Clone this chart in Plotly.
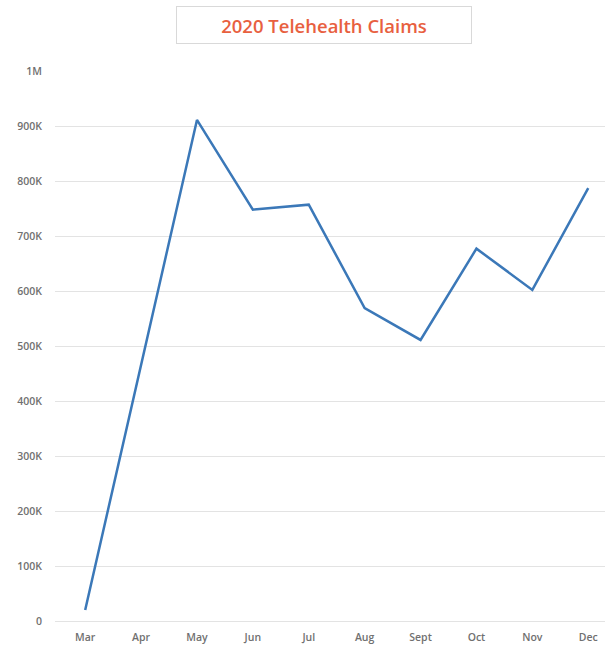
import plotly.graph_objects as go

months = ["Mar", "Apr", "May", "Jun", "Jul", "Aug", "Sept", "Oct", "Nov", "Dec"]
claims = [20000, 465000, 911000, 748000, 757000, 569000, 511000, 677000, 602000, 787000]
y_tick_vals = [0, 100000, 200000, 300000, 400000, 500000, 600000, 700000, 800000, 900000, 1000000]
y_tick_text = ["0", "100K", "200K", "300K", "400K", "500K", "600K", "700K", "800K", "900K", "1M"]
title_text = "2020 Telehealth Claims"

tick_font = dict(size=10.5, color="#707070", family="'Open Sans', sans-serif", weight=600)

fig = go.Figure()
fig.add_trace(go.Scatter(
    x=months, y=claims, mode="lines",
    line=dict(color="#3B78B8", width=2.5),
    hoverinfo="x+y",
))

fig.update_layout(
    width=605, height=645,
    margin=dict(l=55, r=0, t=71, b=24),
    paper_bgcolor="white", plot_bgcolor="white",
    showlegend=False,
    font=dict(family="'Open Sans', sans-serif", color="#707070"),
    xaxis=dict(
        type="category", range=[-0.54, 9.3],
        showgrid=False, zeroline=False, showline=False,
        ticks="outside", ticklen=6, tickcolor="rgba(0,0,0,0)",
        tickfont=tick_font,
    ),
    yaxis=dict(
        range=[0, 1000000],
        tickvals=y_tick_vals, ticktext=y_tick_text,
        showgrid=True, gridcolor="#e3e3e3", gridwidth=1,
        zeroline=True, zerolinecolor="#e3e3e3", zerolinewidth=1,
        showline=False, ticks="outside", ticklen=10, tickcolor="rgba(0,0,0,0)",
        tickfont=tick_font,
    ),
    annotations=[dict(
        text=title_text, xref="paper", yref="paper",
        x=(324 - 55) / 550, y=1 + (71 - 25) / 550,
        xanchor="center", yanchor="middle", showarrow=False,
        width=292, height=34,
        bordercolor="#d9d9d9", borderwidth=1, borderpad=1,
        font=dict(size=18.5, color="#E8603F", family="'Open Sans', sans-serif", weight=600),
    )],
)

fig.write_html("out.html")
